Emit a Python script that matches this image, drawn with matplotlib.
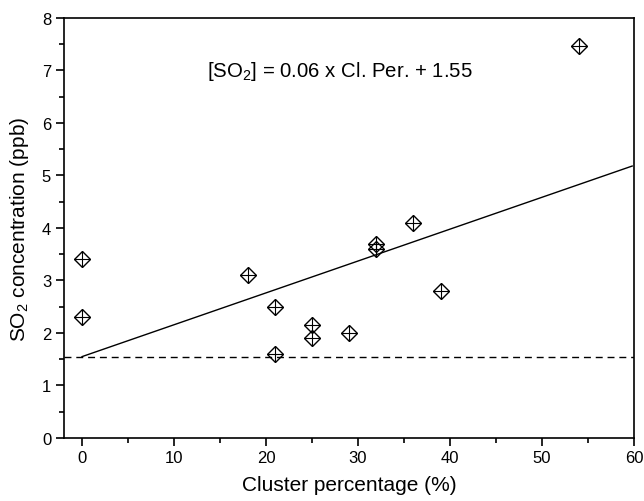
import matplotlib
matplotlib.use("Agg")
import matplotlib.pyplot as plt
from matplotlib.ticker import MultipleLocator
import numpy as np

plt.rcParams["font.family"] = ["Liberation Sans", "DejaVu Sans"]
plt.rcParams["mathtext.fontset"] = "custom"
plt.rcParams["mathtext.rm"] = "Liberation Sans"
plt.rcParams["mathtext.it"] = "Liberation Sans"

# Cluster percentage (%) vs SO2 concentration (ppb)
cluster_pct = [0, 0, 18, 21, 21, 25, 25, 29, 32, 32, 36, 39, 54]
so2_ppb = [3.4, 2.3, 3.1, 2.5, 1.6, 2.15, 1.9, 2.0, 3.7, 3.6, 4.1, 2.8, 7.47]

# fitted line and baseline
slope, intercept = 0.0607, 1.55
fit_x = [0, 59.8]
baseline = 1.55

fig = plt.figure(figsize=(6.44, 5.02), dpi=100)
ax = fig.add_axes([0.0988, 0.1255, 0.8857, 0.8367])

ax.axhline(baseline, color="black", linestyle=(0, (5, 3.5)), linewidth=1.0)
fx = np.array(fit_x)
ax.plot(fx, slope * fx + intercept, color="black", linewidth=1.0)

ax.plot(cluster_pct, so2_ppb, linestyle="none", marker="D", markersize=8.5,
        markerfacecolor="none", markeredgecolor="black", markeredgewidth=1.0)
ax.plot(cluster_pct, so2_ppb, linestyle="none", marker="+", markersize=11.5,
        markeredgecolor="black", markeredgewidth=0.8)

ax.text(28, 7.0, "[SO$_2$] = 0.06 x Cl. Per. + 1.55", ha="center", va="center",
        fontsize=14.7)

ax.set_xlim(-2, 60)
ax.set_ylim(0, 8)
ax.xaxis.set_major_locator(MultipleLocator(10))
ax.xaxis.set_minor_locator(MultipleLocator(5))
ax.yaxis.set_major_locator(MultipleLocator(1))
ax.yaxis.set_minor_locator(MultipleLocator(0.5))
ax.tick_params(which="major", direction="out", length=5.5, width=1.2, labelsize=12)
ax.tick_params(which="minor", direction="out", length=3.5, width=1.2)
for spine in ax.spines.values():
    spine.set_linewidth(1.2)

ax.set_xlabel("Cluster percentage (%)", fontsize=15, labelpad=7)
ax.set_ylabel("SO$_2$ concentration (ppb)", fontsize=15, labelpad=8)

fig.savefig("out.png", dpi=100)
